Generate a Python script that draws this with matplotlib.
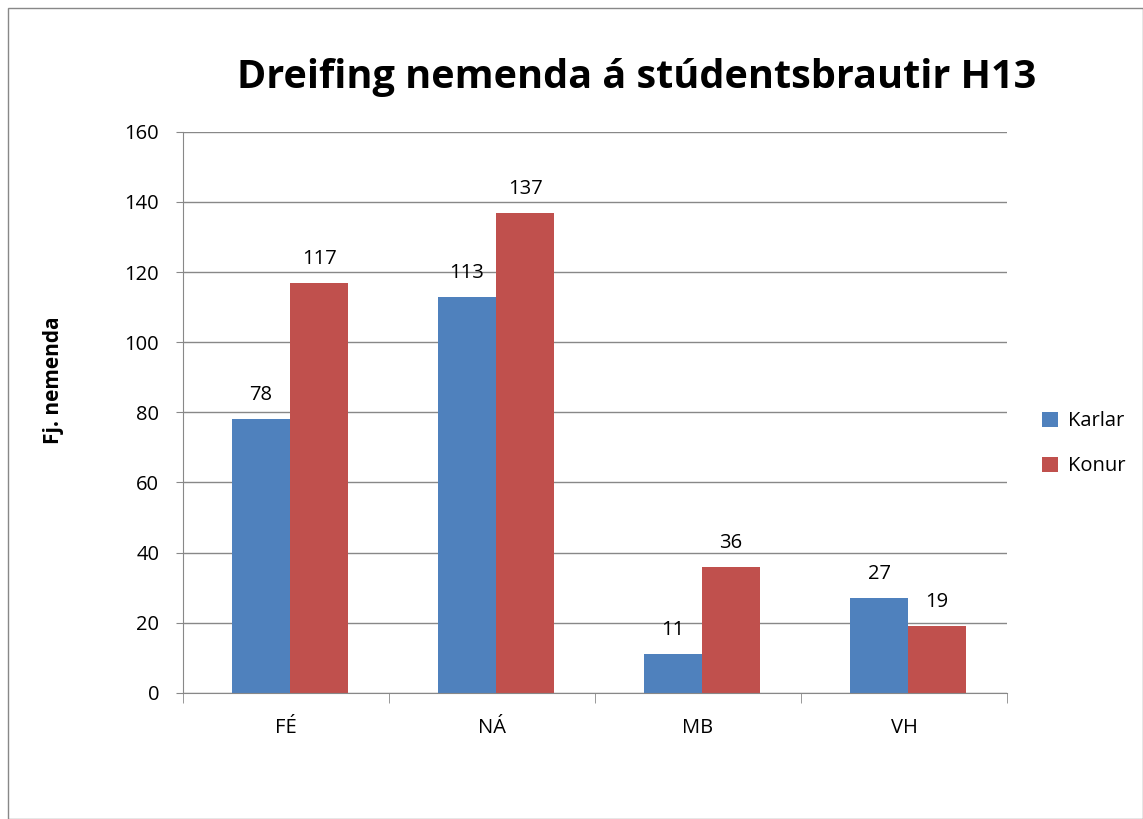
import matplotlib.pyplot as plt
import numpy as np
from matplotlib.patches import Rectangle

# gögn
flokkar = ["FÉ", "NÁ", "MB", "VH"]
karlar = [78, 113, 11, 27]
konur = [117, 137, 36, 19]

plt.rcParams['font.family'] = ['Open Sans', 'DejaVu Sans']

fig = plt.figure(figsize=(11.43, 8.19), dpi=100)
ax = fig.add_axes([0.160, 0.154, 0.721, 0.685])

x = np.arange(len(flokkar)) + 0.02
w = 0.282
b1 = ax.bar(x - w / 2, karlar, w, color='#4F81BD', label='Karlar')
b2 = ax.bar(x + w / 2, konur, w, color='#C0504D', label='Konur')

for bars in (b1, b2):
    for rect in bars:
        h = rect.get_height()
        ax.annotate(f"{h:.0f}", (rect.get_x() + rect.get_width() / 2, h),
                    xytext=(0, 10), textcoords='offset points',
                    ha='center', va='bottom', fontsize=14.5)

ax.set_xlim(-0.5, 3.5)
ax.set_ylim(0, 160)
ax.set_yticks(range(0, 161, 20))
ax.set_xticks(np.arange(len(flokkar)))
ax.set_xticklabels(flokkar, fontsize=14.5)
ax.tick_params(axis='y', labelsize=14.5, length=5, color='#888888', direction='out', pad=12)
ax.tick_params(axis='x', length=0, pad=18)
# tick merki á milli flokka
ax.set_xticks(np.arange(-0.5, 4, 1), minor=True)
ax.tick_params(axis='x', which='minor', length=7, color='#888888')

ax.grid(axis='y', color='#888888', linewidth=1)
ax.set_axisbelow(True)
for s in ['top', 'right']:
    ax.spines[s].set_visible(False)
ax.spines['left'].set_color('#888888')
ax.spines['bottom'].set_color('#888888')

ax.set_ylabel("Fj. nemenda", fontsize=15, fontweight='bold')
ax.yaxis.set_label_coords(-0.144, 0.558)

fig.text(0.557, 0.905, "Dreifing nemenda á stúdentsbrautir H13",
         ha='center', va='center', fontsize=28.5, fontweight='bold')

ax.legend(loc='center left', bbox_to_anchor=(1.021, 0.444), frameon=False,
          fontsize=14.5, handlelength=0.75, handleheight=0.75,
          handletextpad=0.5, labelspacing=1.25)

fig.patches.append(Rectangle((0.007, 0.0), 0.993, 0.99, transform=fig.transFigure,
                             fill=False, edgecolor='#888888', linewidth=1))

plt.savefig("out.png", dpi=100)
plt.close()
